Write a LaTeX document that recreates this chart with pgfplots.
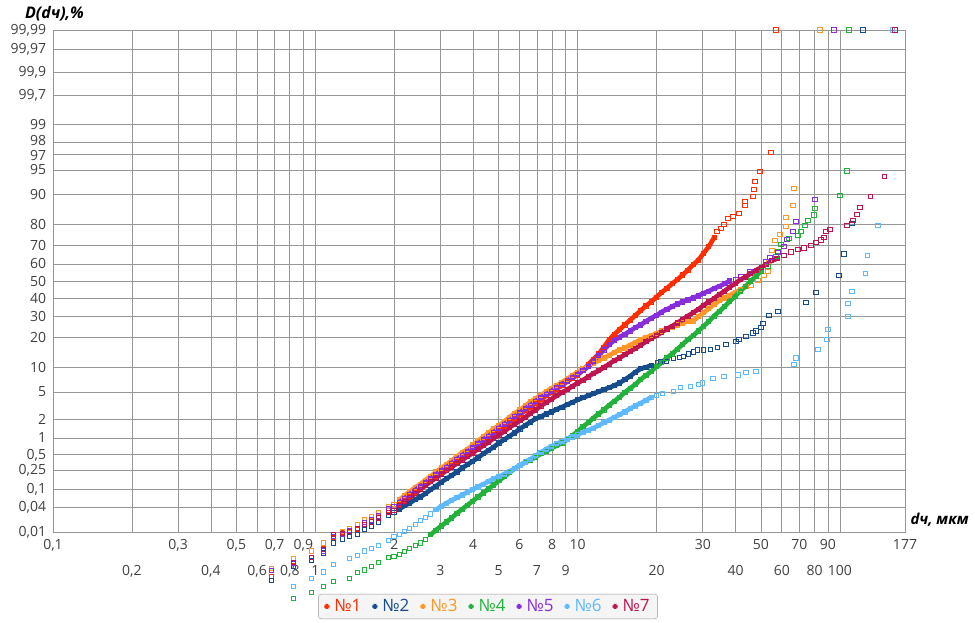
\documentclass[border=0pt]{standalone}
\usepackage{fontspec}
\setmainfont{Open Sans}
\usepackage{pgfplots}
\usepackage{pgfplotstable}
\pgfplotsset{compat=1.18}
\definecolor{c1}{RGB}{255,45,0}
\definecolor{c2}{RGB}{22,76,140}
\definecolor{c3}{RGB}{255,150,40}
\definecolor{c4}{RGB}{34,178,60}
\definecolor{c5}{RGB}{135,45,220}
\definecolor{c6}{RGB}{95,185,255}
\definecolor{c7}{RGB}{190,20,80}
\definecolor{gridc}{RGB}{150,150,150}
\definecolor{tickc}{RGB}{64,64,64}
% d (um)  z = probit of D (%)
\pgfplotstableread{
d z
2.089 -3.31
2.188 -3.25
2.291 -3.19
2.399 -3.13
2.512 -3.07
2.630 -3.02
2.754 -2.96
2.884 -2.90
3.020 -2.84
3.162 -2.79
3.311 -2.73
3.467 -2.67
3.631 -2.61
3.802 -2.56
3.981 -2.50
4.169 -2.44
4.365 -2.38
4.571 -2.33
4.786 -2.27
5.012 -2.21
5.248 -2.15
5.495 -2.10
5.754 -2.04
6.026 -1.98
6.310 -1.92
6.607 -1.87
6.918 -1.81
7.244 -1.76
7.586 -1.70
7.943 -1.65
8.318 -1.60
8.710 -1.55
9.120 -1.49
9.550 -1.44
10.00 -1.39
10.47 -1.32
10.96 -1.24
11.48 -1.16
12.02 -1.08
12.59 -0.98
13.18 -0.87
13.80 -0.79
14.45 -0.72
15.14 -0.65
15.85 -0.58
16.60 -0.51
17.38 -0.44
18.20 -0.37
19.05 -0.31
19.95 -0.24
20.89 -0.17
21.88 -0.11
22.91 -0.04
23.99 0.02
25.12 0.09
26.30 0.16
27.54 0.24
28.84 0.31
30.20 0.41
31.62 0.51
33.11 0.64
}\dA
\pgfplotstableread{
d z
0.679 -4.38
0.824 -4.22
0.966 -4.10
1.073 -3.97
1.171 -3.80
1.268 -3.73
1.348 -3.71
1.447 -3.68
1.538 -3.61
1.636 -3.55
1.740 -3.51
1.905 -3.40
1.995 -3.37
33.93 0.73
35.14 0.78
36.08 0.84
37.37 0.93
39.05 0.96
41.17 1.00
43.40 1.12
43.40 1.18
46.55 1.25
46.96 1.36
47.37 1.48
49.51 1.62
54.53 1.91
56.97 3.719
}\sA
\pgfplotstableread{
d z
2.089 -3.38
2.188 -3.33
2.291 -3.29
2.399 -3.24
2.512 -3.20
2.630 -3.15
2.754 -3.09
2.884 -3.04
3.020 -2.98
3.162 -2.93
3.311 -2.88
3.467 -2.83
3.631 -2.77
3.802 -2.72
3.981 -2.67
4.169 -2.62
4.365 -2.56
4.571 -2.51
4.786 -2.46
5.012 -2.40
5.248 -2.35
5.495 -2.30
5.754 -2.25
6.026 -2.19
6.310 -2.14
6.607 -2.09
6.918 -2.04
7.244 -2.01
7.586 -1.97
7.943 -1.94
8.318 -1.90
8.710 -1.87
9.120 -1.83
9.550 -1.80
10.00 -1.76
10.47 -1.73
10.96 -1.70
11.48 -1.67
12.02 -1.64
12.59 -1.61
13.18 -1.58
13.80 -1.55
14.45 -1.51
15.14 -1.46
15.85 -1.41
16.60 -1.35
17.38 -1.30
18.20 -1.28
19.05 -1.25
}\dB
\pgfplotstableread{
d z
0.679 -4.44
0.824 -4.23
0.966 -4.14
1.073 -4.03
1.171 -3.88
1.268 -3.82
1.348 -3.79
1.447 -3.76
1.538 -3.68
1.636 -3.63
1.740 -3.57
1.905 -3.47
1.995 -3.43
20.20 -1.21
20.74 -1.20
21.86 -1.19
23.25 -1.15
24.51 -1.13
25.39 -1.12
26.53 -1.08
27.71 -1.05
28.71 -1.02
30.26 -1.02
32.18 -1.01
34.22 -0.98
36.72 -0.94
40.10 -0.89
41.17 -0.86
43.77 -0.82
46.55 -0.77
47.79 -0.74
49.94 -0.69
50.83 -0.63
53.58 -0.51
57.99 -0.45
74.17 -0.32
80.99 -0.17
99.13 0.08
103.6 0.40
111.1 0.85
122.4 3.719
}\sB
\pgfplotstableread{
d z
2.089 -3.24
2.188 -3.18
2.291 -3.12
2.399 -3.06
2.512 -3.01
2.630 -2.95
2.754 -2.89
2.884 -2.83
3.020 -2.77
3.162 -2.72
3.311 -2.66
3.467 -2.60
3.631 -2.54
3.802 -2.49
3.981 -2.43
4.169 -2.37
4.365 -2.31
4.571 -2.25
4.786 -2.19
5.012 -2.14
5.248 -2.08
5.495 -2.02
5.754 -1.96
6.026 -1.91
6.310 -1.85
6.607 -1.79
6.918 -1.74
7.244 -1.69
7.586 -1.64
7.943 -1.59
8.318 -1.55
8.710 -1.50
9.120 -1.45
9.550 -1.40
10.00 -1.35
10.47 -1.30
10.96 -1.26
11.48 -1.22
12.02 -1.18
12.59 -1.14
13.18 -1.10
13.80 -1.06
14.45 -1.02
15.14 -0.99
15.85 -0.95
16.60 -0.91
17.38 -0.87
18.20 -0.84
19.05 -0.81
19.95 -0.78
20.89 -0.74
21.88 -0.71
22.91 -0.68
23.99 -0.65
25.12 -0.62
26.30 -0.60
27.54 -0.59
28.84 -0.53
30.20 -0.47
31.62 -0.41
33.11 -0.35
34.67 -0.29
36.31 -0.25
38.02 -0.21
39.81 -0.17
41.69 -0.13
}\dC
\pgfplotstableread{
d z
0.679 -4.26
0.824 -4.11
0.966 -4.00
1.073 -3.88
1.171 -3.79
1.268 -3.71
1.348 -3.67
1.447 -3.61
1.538 -3.54
1.636 -3.49
1.740 -3.43
1.905 -3.34
1.995 -3.31
43.77 -0.08
45.75 -0.07
48.64 0.01
51.28 0.08
53.11 0.14
53.58 0.29
55.02 0.45
56.48 0.60
59.02 0.69
62.21 0.81
62.21 0.94
66.16 1.12
66.74 1.37
83.89 3.719
}\sC
\pgfplotstableread{
d z
2.754 -3.76
2.884 -3.69
3.020 -3.63
3.162 -3.57
3.311 -3.51
3.467 -3.44
3.631 -3.38
3.802 -3.32
3.981 -3.26
4.169 -3.20
4.365 -3.14
4.571 -3.08
4.786 -3.02
5.012 -2.96
5.248 -2.90
5.495 -2.84
5.754 -2.78
6.026 -2.73
6.310 -2.69
6.607 -2.65
6.918 -2.61
7.244 -2.56
7.586 -2.52
7.943 -2.48
8.318 -2.44
8.710 -2.40
9.120 -2.35
9.550 -2.29
10.00 -2.23
10.47 -2.16
10.96 -2.10
11.48 -2.03
12.02 -1.97
12.59 -1.91
13.18 -1.84
13.80 -1.78
14.45 -1.72
15.14 -1.65
15.85 -1.59
16.60 -1.53
17.38 -1.46
18.20 -1.40
19.05 -1.34
19.95 -1.27
20.89 -1.21
21.88 -1.14
22.91 -1.08
23.99 -1.01
25.12 -0.94
26.30 -0.87
27.54 -0.81
28.84 -0.74
30.20 -0.67
31.62 -0.60
33.11 -0.52
34.67 -0.45
36.31 -0.38
38.02 -0.30
39.81 -0.23
41.69 -0.15
43.65 -0.08
45.71 0.00
47.86 0.07
50.12 0.15
}\dD
\pgfplotstableread{
d z
0.824 -4.70
0.966 -4.61
1.073 -4.52
1.171 -4.45
1.348 -4.41
1.447 -4.32
1.538 -4.28
1.636 -4.23
1.740 -4.17
1.905 -4.10
1.995 -4.08
2.089 -4.05
2.188 -4.01
2.291 -3.96
2.399 -3.92
2.512 -3.88
2.630 -3.83
53.11 0.22
56.97 0.37
57.99 0.44
59.54 0.54
63.89 0.63
69.14 0.67
70.98 0.74
73.52 0.82
75.48 0.90
79.58 0.98
80.29 1.08
100.0 1.27
106.3 1.63
108.2 3.719
}\sD
\pgfplotstableread{
d z
2.089 -3.28
2.188 -3.22
2.291 -3.16
2.399 -3.10
2.512 -3.04
2.630 -2.99
2.754 -2.93
2.884 -2.87
3.020 -2.81
3.162 -2.76
3.311 -2.70
3.467 -2.64
3.631 -2.58
3.802 -2.53
3.981 -2.47
4.169 -2.41
4.365 -2.35
4.571 -2.30
4.786 -2.24
5.012 -2.18
5.248 -2.12
5.495 -2.07
5.754 -2.01
6.026 -1.95
6.310 -1.89
6.607 -1.84
6.918 -1.78
7.244 -1.73
7.586 -1.68
7.943 -1.63
8.318 -1.58
8.710 -1.53
9.120 -1.48
9.550 -1.43
10.00 -1.38
10.47 -1.33
10.96 -1.27
11.48 -1.19
12.02 -1.10
12.59 -1.02
13.18 -0.94
13.80 -0.88
14.45 -0.83
15.14 -0.79
15.85 -0.74
16.60 -0.69
17.38 -0.65
18.20 -0.60
19.05 -0.55
19.95 -0.51
20.89 -0.46
21.88 -0.42
22.91 -0.38
23.99 -0.34
25.12 -0.31
26.30 -0.28
27.54 -0.25
28.84 -0.22
30.20 -0.18
31.62 -0.15
33.11 -0.11
34.67 -0.08
36.31 -0.04
38.02 0.00
}\dE
\pgfplotstableread{
d z
0.679 -4.29
0.824 -4.19
0.966 -4.10
1.073 -4.00
1.171 -3.79
1.268 -3.76
1.348 -3.70
1.447 -3.66
1.538 -3.58
1.636 -3.54
1.740 -3.48
1.905 -3.37
1.995 -3.34
40.10 0.02
41.90 0.07
45.35 0.14
52.20 0.29
54.05 0.35
57.99 0.42
61.14 0.51
62.77 0.62
66.16 0.73
67.93 0.88
80.29 1.21
94.87 3.719
}\sE
\pgfplotstableread{
d z
2.884 -3.39
3.020 -3.34
3.162 -3.29
3.311 -3.25
3.467 -3.21
3.631 -3.17
3.802 -3.13
3.981 -3.09
4.169 -3.05
4.365 -3.01
4.571 -2.97
4.786 -2.93
5.012 -2.90
5.248 -2.86
5.495 -2.82
5.754 -2.78
6.026 -2.73
6.310 -2.68
6.607 -2.64
6.918 -2.59
7.244 -2.54
7.586 -2.49
7.943 -2.45
8.318 -2.41
8.710 -2.38
9.120 -2.34
9.550 -2.31
10.00 -2.28
10.47 -2.24
10.96 -2.21
11.48 -2.18
12.02 -2.14
12.59 -2.10
13.18 -2.06
13.80 -2.02
14.45 -1.98
15.14 -1.94
15.85 -1.89
16.60 -1.85
17.38 -1.81
18.20 -1.77
19.05 -1.72
}\dF
\pgfplotstableread{
d z
0.824 -4.53
0.966 -4.41
1.073 -4.31
1.171 -4.20
1.348 -4.11
1.447 -4.07
1.538 -4.00
1.636 -3.96
1.740 -3.92
1.905 -3.84
1.995 -3.78
2.089 -3.75
2.188 -3.71
2.291 -3.66
2.399 -3.61
2.512 -3.55
2.630 -3.50
2.754 -3.45
20.02 -1.70
21.10 -1.67
23.25 -1.63
24.73 -1.58
27.00 -1.56
28.96 -1.53
30.00 -1.51
32.76 -1.44
36.08 -1.41
40.81 -1.39
43.77 -1.36
47.79 -1.34
66.74 -1.24
67.93 -1.14
82.41 -1.01
89.21 -0.86
89.99 -0.72
107.3 -0.52
107.3 -0.33
111.1 -0.15
124.6 0.11
126.8 0.38
139.6 0.82
158.0 3.719
}\sF
\pgfplotstableread{
d z
2.089 -3.33
2.188 -3.27
2.291 -3.21
2.399 -3.15
2.512 -3.09
2.630 -3.03
2.754 -2.97
2.884 -2.92
3.020 -2.86
3.162 -2.81
3.311 -2.76
3.467 -2.70
3.631 -2.65
3.802 -2.60
3.981 -2.55
4.169 -2.49
4.365 -2.44
4.571 -2.39
4.786 -2.33
5.012 -2.28
5.248 -2.23
5.495 -2.17
5.754 -2.12
6.026 -2.07
6.310 -2.02
6.607 -1.96
6.918 -1.91
7.244 -1.85
7.586 -1.80
7.943 -1.75
8.318 -1.70
8.710 -1.65
9.120 -1.61
9.550 -1.56
10.00 -1.51
10.47 -1.47
10.96 -1.42
11.48 -1.37
12.02 -1.33
12.59 -1.28
13.18 -1.23
13.80 -1.18
14.45 -1.14
15.14 -1.09
15.85 -1.04
16.60 -1.00
17.38 -0.95
18.20 -0.90
19.05 -0.85
19.95 -0.81
20.89 -0.76
21.88 -0.71
22.91 -0.67
23.99 -0.62
25.12 -0.57
26.30 -0.52
27.54 -0.47
28.84 -0.42
30.20 -0.36
31.62 -0.31
33.11 -0.26
34.67 -0.20
36.31 -0.15
38.02 -0.09
39.81 -0.04
41.69 0.02
43.65 0.06
45.71 0.11
47.86 0.16
50.12 0.20
52.48 0.25
54.95 0.30
57.54 0.33
}\dG
\pgfplotstableread{
d z
0.824 -4.17
0.966 -4.09
1.073 -3.98
1.171 -3.76
1.268 -3.74
1.348 -3.71
1.447 -3.67
1.538 -3.61
1.636 -3.57
1.740 -3.51
1.905 -3.43
1.995 -3.40
61.14 0.38
65.01 0.43
69.14 0.47
72.88 0.49
77.49 0.53
80.99 0.57
84.63 0.61
86.89 0.64
88.43 0.73
91.59 0.77
106.3 0.82
112.1 0.90
116.1 0.99
119.2 1.09
130.2 1.25
147.2 1.55
162.1 3.719
}\sG
\begin{document}
\begin{tikzpicture}
\useasboundingbox (-53pt,-91pt) rectangle (922pt,532pt);
\begin{axis}[
  at={(0pt,0pt)}, anchor=south west,
  scale only axis, width=852pt, height=502pt,
  xmode=log, xmin=0.1, xmax=177,
  ymin=-3.719, ymax=3.719,
  clip=false,
  axis line style={gridc, line width=0.8pt},
  grid=major, major grid style={gridc, line width=0.8pt},
  major tick length=0pt, minor tick length=0pt,
  minor xtick={},
  xtick={0.1,0.3,0.5,0.7,0.9,2,4,6,8,10,30,50,70,90,177},
  xticklabels={{0,1},{0,3},{0,5},{0,7},{0,9},2,4,6,8,10,30,50,70,90,177},
  extra x ticks={0.2,0.4,0.6,0.8,1,3,5,7,9,20,40,60,80,100},
  extra x tick labels={{0,2},{0,4},{0,6},{0,8},1,3,5,7,9,20,40,60,80,100},
  extra x tick style={grid=major, xticklabel style={yshift=-26pt}},
  xticklabel style={yshift=-4pt},
  ytick={-3.719,-3.353,-3.090,-2.807,-2.576,-2.326,-2.054,-1.645,-1.282,-0.842,-0.524,-0.253,0,0.253,0.524,0.842,1.282,1.645,2.054,2.326,2.748,3.090,3.432,3.719},
  yticklabels={{0,01},{0,04},{0,1},{0,25},{0,5},1,2,5,10,20,30,40,50,60,70,80,90,95,\raisebox{3.4pt}{98},99,{99,7},{99,9},{99,97},{99,99}},
  extra y ticks={1.881},
  extra y tick labels={97},
  extra y tick style={grid=major, yticklabel style={yshift=-1.7pt}},
  yticklabel style={inner xsep=1pt, inner ysep=0pt, xshift=-5.7pt},
  tick label style={font=\fontsize{14}{16}\selectfont, text=tickc},
  pts/.style={only marks, mark=square, mark size=2.1pt, mark options={line width=0.8pt}},
  band/.style={no marks, line width=4.6pt, line join=round, line cap=round, forget plot},
  legend style={at={(0.5106,-0.1484)}, anchor=center, legend columns=-1,
    draw=black!40, fill=black!4, rounded corners=3pt,
    inner xsep=6pt, inner ysep=3.5pt,
    font=\fontsize{17}{19}\selectfont,
    /tikz/every odd column/.append style={column sep=3pt},
    /tikz/every even column/.append style={column sep=9pt}},
  legend image code/.code={\fill[#1] (0pt,-2.3pt) rectangle (4.6pt,2.3pt);},
]
\addplot[c1, band] table {\dA};
\addplot[c1, pts, forget plot] table {\dA};
\addplot[c1, pts] table {\sA};
\addplot[c2, band] table {\dB};
\addplot[c2, pts, forget plot] table {\dB};
\addplot[c2, pts] table {\sB};
\addplot[c3, band] table {\dC};
\addplot[c3, pts, forget plot] table {\dC};
\addplot[c3, pts] table {\sC};
\addplot[c4, band] table {\dD};
\addplot[c4, pts, forget plot] table {\dD};
\addplot[c4, pts] table {\sD};
\addplot[c5, band] table {\dE};
\addplot[c5, pts, forget plot] table {\dE};
\addplot[c5, pts] table {\sE};
\addplot[c6, band] table {\dF};
\addplot[c6, pts, forget plot] table {\dF};
\addplot[c6, pts] table {\sF};
\addplot[c7, band] table {\dG};
\addplot[c7, pts, forget plot] table {\dG};
\addplot[c7, pts] table {\sG};
\legend{\textcolor{c1}{№1},\textcolor{c2}{№2},\textcolor{c3}{№3},\textcolor{c4}{№4},\textcolor{c5}{№5},\textcolor{c6}{№6},\textcolor{c7}{№7}}
\end{axis}
\node[anchor=west, font=\fontsize{16}{18}\selectfont\bfseries\itshape] at (-31.5pt,518pt) {D(dч),\%};
\node[anchor=west, font=\fontsize{15}{17}\selectfont\bfseries\itshape] at (854pt,12pt) {dч, мкм};
\end{tikzpicture}
\end{document}
